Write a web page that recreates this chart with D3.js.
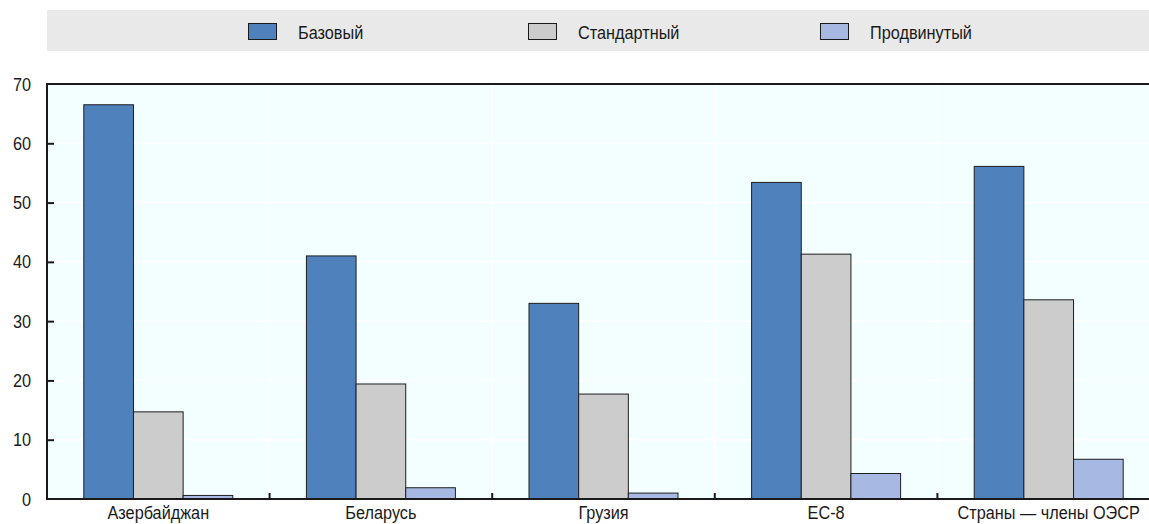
<!DOCTYPE html>
<html>
<head>
<meta charset="utf-8">
<script src="https://cdn.jsdelivr.net/npm/d3@7"></script>
<style>
  html, body { margin: 0; padding: 0; background: #ffffff; }
  svg { display: block; font-family: "Liberation Sans", Arial, sans-serif; }
</style>
</head>
<body>
<svg id="chart" width="1149" height="524"></svg>
<script>
// Categories and series
const categories = ["Азербайджан", "Беларусь", "Грузия", "ЕС-8", "Страны — члены ОЭСР"];
const seriesNames = ["Базовый", "Стандартный", "Продвинутый"];
const basic    = [66.5, 41.0, 33.0, 53.4, 56.1];
const standard = [14.7, 19.4, 17.7, 41.3, 33.6];
const advanced = [0.6, 1.9, 1.0, 4.3, 6.7];
const yTicks = [0, 10, 20, 30, 40, 50, 60, 70];
const seriesColors = ["#4f81bd", "#cccccc", "#a7b9e3"];

const seriesValues = [basic, standard, advanced];
const rows = categories.map((c, i) => ({
  cat: c,
  vals: seriesNames.map((s, j) => ({ key: s, value: seriesValues[j][i], color: seriesColors[j] }))
}));

const svg = d3.select("#chart");
const plot = { left: 47, top: 84, bottom: 499, right: 1160 };
const fontSize = 17.5;
const narrow = 0.93;   // condensed text look

// Draws condensed text anchored at (px, py)
function label(sel, px, py) {
  return sel.attr("transform", (d, i) => `translate(${px(d, i)},${py(d, i)}) scale(${narrow},1)`)
    .attr("font-size", fontSize).attr("fill", "#1a1a1a");
}

const x = d3.scaleBand().domain(categories).range([plot.left, plot.right]).padding(0);
const groupW = 149;
const xInner = d3.scaleBand().domain(seriesNames)
  .range([(x.bandwidth() - groupW) / 2, (x.bandwidth() + groupW) / 2]).padding(0);
const y = d3.scaleLinear().domain([0, 70]).range([plot.bottom, plot.top]);

// Legend band
svg.append("rect").attr("x", 47).attr("y", 10).attr("width", 1102).attr("height", 41)
  .attr("fill", "#e9e9e9");
const legendX = [248, 528, 820];
const legend = svg.append("g").selectAll("g").data(seriesNames).join("g")
  .attr("transform", (d, i) => `translate(${legendX[i]},0)`);
legend.append("rect").attr("x", 0.5).attr("y", 23.5).attr("width", 28).attr("height", 16)
  .attr("fill", (d, i) => seriesColors[i]).attr("stroke", "#1a1a1a").attr("stroke-width", 1);
label(legend.append("text"), () => 50, () => 38.5).text(d => d);

// Plot background
svg.append("rect").attr("x", plot.left).attr("y", plot.top)
  .attr("width", plot.right - plot.left).attr("height", plot.bottom - plot.top)
  .attr("fill", "#f2feff");

// Horizontal gridlines
svg.append("g").selectAll("line").data(yTicks.filter(t => t > 0 && t < 70)).join("line")
  .attr("x1", plot.left).attr("x2", plot.right)
  .attr("y1", d => y(d)).attr("y2", d => y(d))
  .attr("stroke", "#ffffff").attr("stroke-width", 1.5);

// Vertical separators between categories
svg.append("g").selectAll("line").data(categories.slice(1)).join("line")
  .attr("x1", d => x(d)).attr("x2", d => x(d))
  .attr("y1", plot.top).attr("y2", plot.bottom)
  .attr("stroke", "#ffffff").attr("stroke-width", 1.5);

// Bars
const groups = svg.append("g").selectAll("g").data(rows).join("g")
  .attr("transform", d => `translate(${x(d.cat)},0)`);
groups.selectAll("rect").data(d => d.vals).join("rect")
  .attr("x", d => xInner(d.key))
  .attr("y", d => y(d.value))
  .attr("width", xInner.bandwidth())
  .attr("height", d => y(0) - y(d.value))
  .attr("fill", d => d.color)
  .attr("stroke", "#1e1e1e").attr("stroke-width", 1);

// Top border
svg.append("line").attr("x1", plot.left).attr("x2", plot.right)
  .attr("y1", plot.top).attr("y2", plot.top)
  .attr("stroke", "#1a1a1a").attr("stroke-width", 2);

// Y axis
const yAxis = d3.axisRight(y).tickValues(yTicks).tickSize(7).tickFormat("");
const yg = svg.append("g").attr("transform", `translate(${plot.left},0)`).call(yAxis);
yg.select(".domain").remove();
yg.selectAll(".tick line").attr("stroke", "#1a1a1a").attr("stroke-width", 2);
yg.selectAll(".tick").filter(d => d === 0 || d === 70).select("line").remove();
svg.append("line").attr("x1", plot.left).attr("x2", plot.left)
  .attr("y1", plot.top - 1).attr("y2", plot.bottom + 1)
  .attr("stroke", "#1a1a1a").attr("stroke-width", 2);

label(svg.append("g").selectAll("text").data(yTicks).join("text"),
      () => 31, d => y(d) + 6.5)
  .attr("text-anchor", "end").text(d => d);

// X axis
svg.append("line").attr("x1", plot.left).attr("x2", plot.right)
  .attr("y1", plot.bottom).attr("y2", plot.bottom)
  .attr("stroke", "#1a1a1a").attr("stroke-width", 2);
svg.append("g").selectAll("line").data(categories.slice(1)).join("line")
  .attr("x1", d => x(d)).attr("x2", d => x(d))
  .attr("y1", plot.bottom).attr("y2", plot.bottom - 6)
  .attr("stroke", "#1a1a1a").attr("stroke-width", 2);
label(svg.append("g").selectAll("text").data(categories).join("text"),
      d => x(d) + x.bandwidth() / 2, () => 519)
  .attr("text-anchor", "middle").text(d => d);
</script>
</body>
</html>
